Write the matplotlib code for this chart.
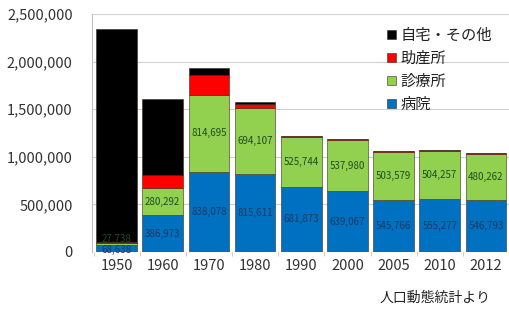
import matplotlib
matplotlib.use("Agg")
import matplotlib.pyplot as plt
import numpy as np
from matplotlib.ticker import FuncFormatter

plt.rcParams['font.family'] = ['Noto Sans CJK JP', 'DejaVu Sans']

years = ['1950', '1960', '1970', '1980', '1990', '2000', '2005', '2010', '2012']
hospital = [68638, 386973, 838078, 815611, 681873, 639067, 545766, 555277, 546793]
clinic = [27738, 280292, 814695, 694107, 525744, 537980, 503579, 504257, 480262]
midwife = [12000, 136000, 205000, 47000, 12000, 11600, 11000, 9000, 8000]
home = [2229131, 802776, 76466, 20171, 1968, 1900, 2185, 2770, 2176]

series = [
    ('病院', hospital, '#0070C0'),
    ('診療所', clinic, '#92D050'),
    ('助産所', midwife, '#FF0000'),
    ('自宅・その他', home, '#000000'),
]

fig = plt.figure(figsize=(5.09, 3.11), dpi=100)
ax = fig.add_axes([0.181, 0.19, 0.819, 0.765])

x = np.arange(len(years))
bottom = np.zeros(len(years))
handles = []
for name, vals, col in series:
    vals = np.array(vals, dtype=float)
    b = ax.bar(x, vals, 0.88, bottom=bottom, color=col, edgecolor='#3a2a1a', linewidth=0.4, label=name, zorder=2)
    handles.append(b)
    if name == '病院':
        for xi, v, b0 in zip(x, vals, bottom):
            ax.text(xi, b0 + v / 2 - (15000 if xi == 0 else 0), f'{int(v):,}', ha='center', va='center',
                    fontsize=7, color='#1F3864', zorder=3)
    elif name == '診療所':
        for xi, v, b0 in zip(x, vals, bottom):
            ax.text(xi, b0 + v / 2 + (50000 if xi == 0 else 0), f'{int(v):,}', ha='center', va='center',
                    fontsize=7, color='#1E4E1E', zorder=3)
    bottom += vals

ax.set_xlim(-0.53, 8.4)
ax.set_ylim(0, 2500000)
ax.set_yticks(np.arange(0, 2500001, 500000))
ax.yaxis.set_major_formatter(FuncFormatter(lambda v, p: f'{int(v):,}'))
ax.set_xticks(x)
ax.set_xticklabels(years)
ax.set_xticks(np.arange(-0.5, 8.6, 1.0), minor=True)
ax.tick_params(axis='y', length=0, labelsize=10.5, colors='#333333', pad=14)
ax.tick_params(axis='x', which='major', length=0, labelsize=10.5, colors='#333333', pad=5)
ax.tick_params(axis='x', which='minor', length=3, color='#c0c0c0')
ax.grid(axis='y', color='#d0d0d0', linewidth=0.8, zorder=0)
for s in ['top', 'right', 'bottom']:
    ax.spines[s].set_visible(False)
ax.spines['left'].set_color('#c0c0c0')
ax.axhline(0, color='#c0c0c0', linewidth=0.8, zorder=1)

leg = ax.legend(handles[::-1], [s[0] for s in series][::-1], loc='upper left',
                bbox_to_anchor=(0.675, 1.005), frameon=False, fontsize=11,
                handlelength=0.55, handleheight=0.55, handletextpad=0.3, labelspacing=0.4)
for t in leg.get_texts():
    t.set_color('#222222')

fig.text(0.745, 0.03, '人口動態統計より', fontsize=10, color='#222222')

fig.savefig('out.png', dpi=100)
